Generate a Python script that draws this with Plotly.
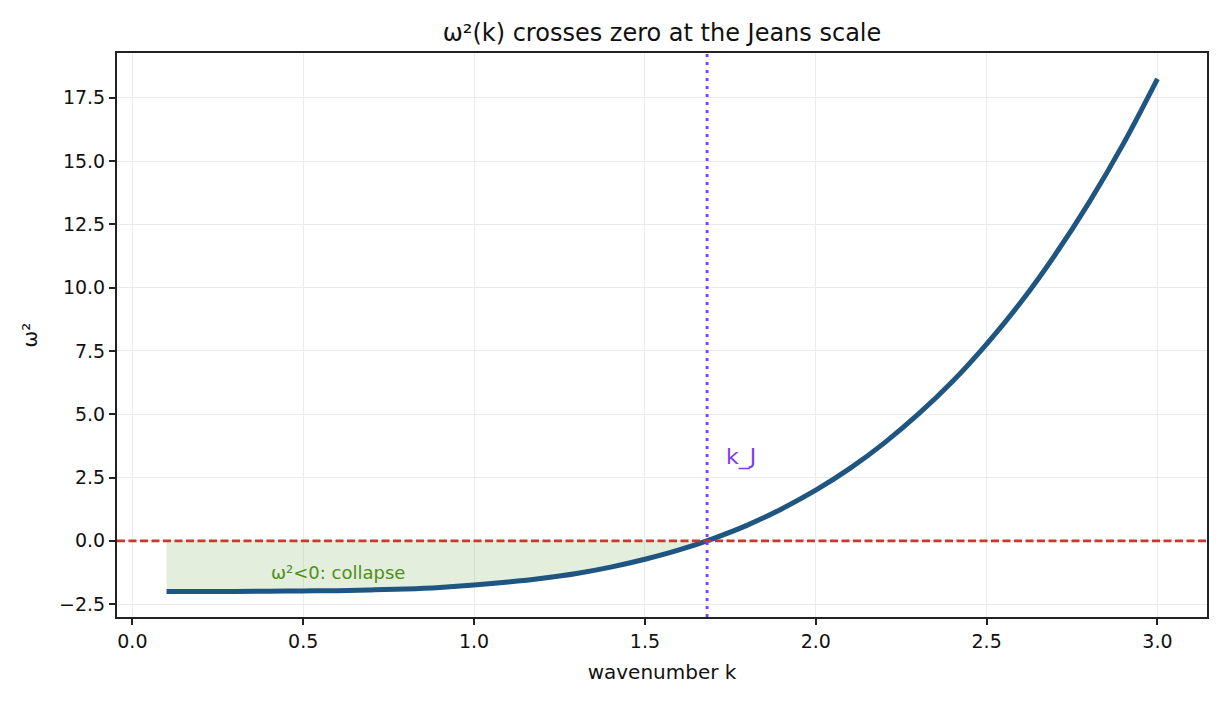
import plotly.graph_objects as go

# wavenumber k and omega^2
k_vals = [0.1, 0.2, 0.3, 0.4, 0.5, 0.6, 0.7, 0.8, 0.9, 1.0,
          1.1, 1.2, 1.3, 1.4, 1.5, 1.6, 1.7, 1.8, 1.9, 2.0,
          2.1, 2.2, 2.3, 2.4, 2.5, 2.6, 2.7, 2.8, 2.9, 3.0]
omega2 = [-2.00, -2.00, -2.00, -1.99, -1.98, -1.97, -1.94, -1.90, -1.84, -1.75,
          -1.63, -1.48, -1.29, -1.04, -0.73, -0.36, 0.09, 0.62, 1.26, 2.00,
          2.86, 3.86, 5.00, 6.29, 7.77, 9.42, 11.29, 13.37, 15.68, 18.25]
k_jeans = 1.682

x_ticks = [0.0, 0.5, 1.0, 1.5, 2.0, 2.5, 3.0]
y_ticks = [-2.5, 0.0, 2.5, 5.0, 7.5, 10.0, 12.5, 15.0, 17.5]

# unstable part (omega^2 < 0) for the shaded region
neg_k = [k for k, w in zip(k_vals, omega2) if w < 0] + [k_jeans]
neg_w = [w for w in omega2 if w < 0] + [0.0]

fig = go.Figure()

fig.add_trace(go.Scatter(x=neg_k, y=neg_w, mode='lines', line=dict(width=0, shape='spline'),
                         fill='tozeroy', fillcolor='rgba(120,170,80,0.2)',
                         hoverinfo='skip', showlegend=False))

fig.add_trace(go.Scatter(x=k_vals, y=omega2, mode='lines',
                         line=dict(color='#1f5581', width=5, shape='spline'),
                         showlegend=False))

fig.add_hline(y=0, line=dict(color='#c63a2c', width=2.8, dash='8px,3.5px'))
fig.add_vline(x=k_jeans, line=dict(color='#7b3cf0', width=2.8, dash='3px,5px'))

fig.add_annotation(x=1.73, y=3.3, text='k_J', showarrow=False, xanchor='left',
                   font=dict(color='#7b3cf0', size=22))
fig.add_annotation(x=0.4, y=-1.27, text='ω²<0: collapse', showarrow=False, xanchor='left',
                   font=dict(color='#4f8f18', size=18))

axis_common = dict(showline=True, linecolor='#222222', linewidth=2, mirror=True,
                   ticks='outside', ticklen=6, tickwidth=1.6, tickcolor='#222222',
                   showgrid=True, gridcolor='#ebebeb', gridwidth=1, zeroline=False,
                   tickfont=dict(size=19, color='#111111'), tickformat='.1f')

fig.update_xaxes(range=[-0.045, 3.145], tickvals=x_ticks,
                 title=dict(text='wavenumber k', font=dict(size=20, color='#111111'), standoff=14),
                 **axis_common)
fig.update_yaxes(range=[-3.01, 19.27], tickvals=y_ticks,
                 title=dict(text='ω²', font=dict(size=20, color='#111111'), standoff=16),
                 **axis_common)

# the page adds an 8px body margin, so the figure is a bit smaller than the window
fig.update_layout(
    width=1222, height=697,
    margin=dict(l=109, r=23, t=45, b=88),
    paper_bgcolor='white', plot_bgcolor='white',
    font=dict(family='DejaVu Sans'),
    title=dict(text='ω²(k) crosses zero at the Jeans scale', x=0.5, xanchor='center',
               xref='paper', y=0.964, yanchor='middle', font=dict(size=24, color='#111111')),
)

fig.write_html("out.html")
